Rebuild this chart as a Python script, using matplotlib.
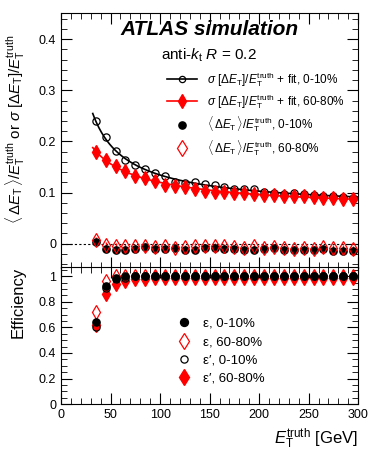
import matplotlib
matplotlib.use('Agg')
import matplotlib.pyplot as plt
import numpy as np
from matplotlib.ticker import MultipleLocator

plt.rcParams['font.family'] = ['Liberation Sans', 'DejaVu Sans']
plt.rcParams['mathtext.fontset'] = 'custom'
plt.rcParams['mathtext.rm'] = 'Liberation Sans'
plt.rcParams['mathtext.it'] = 'Liberation Sans:italic'
plt.rcParams['mathtext.bf'] = 'Liberation Sans:bold'

# jet ET truth bin centres [GeV]
ET = [35, 45, 55, 65, 75, 85, 95, 105, 115, 125, 135, 145, 155, 165, 175,
      185, 195, 205, 215, 225, 235, 245, 255, 265, 275, 285, 295]

# JER sigma[dET]/ET
SIG_010 = [0.239, 0.208, 0.182, 0.163, 0.154, 0.146, 0.138, 0.132, 0.121, 0.119,
           0.121, 0.117, 0.114, 0.110, 0.107, 0.107, 0.106, 0.102, 0.100, 0.098,
           0.099, 0.098, 0.095, 0.094, 0.093, 0.091, 0.090]
SIG_6080 = [0.180, 0.164, 0.151, 0.143, 0.133, 0.128, 0.122, 0.115, 0.112, 0.110,
            0.106, 0.104, 0.102, 0.102, 0.100, 0.099, 0.098, 0.096, 0.095, 0.094,
            0.093, 0.093, 0.091, 0.090, 0.089, 0.087, 0.087]

# JES <dET>/ET
MEAN_010 = [0.004, -0.010, -0.013, -0.013, -0.010, -0.007, -0.010, -0.010, -0.008,
            -0.012, -0.013, -0.008, -0.008, -0.010, -0.010, -0.012, -0.012, -0.010,
            -0.008, -0.013, -0.013, -0.012, -0.012, -0.010, -0.015, -0.014, -0.014]
MEAN_6080 = [0.008, -0.002, -0.004, -0.005, -0.005, -0.004, -0.007, -0.005, -0.008,
             -0.007, -0.004, -0.005, -0.004, -0.005, -0.007, -0.008, -0.005, -0.008,
             -0.007, -0.008, -0.010, -0.008, -0.010, -0.007, -0.008, -0.008, -0.010]

# efficiencies
EFF_010 = [0.64, 0.92, 0.99, 1.0, 1.0, 1.0, 1.0, 1.0, 1.0, 1.0, 1.0, 1.0, 1.0, 1.0,
           1.0, 1.0, 1.0, 1.0, 1.0, 1.0, 1.0, 1.0, 1.0, 1.0, 1.0, 1.0, 1.0]
EFF_6080 = [0.72, 0.96, 1.0, 1.0, 1.0, 1.0, 1.0, 1.0, 1.0, 1.0, 1.0, 1.0, 1.0, 1.0,
            1.0, 1.0, 1.0, 1.0, 1.0, 1.0, 1.0, 1.0, 1.0, 1.0, 1.0, 1.0, 1.0]
EFFP_010 = [0.60, 0.91, 0.98, 0.99, 1.0, 1.0, 1.0, 1.0, 1.0, 1.0, 1.0, 1.0, 1.0, 1.0,
            1.0, 1.0, 1.0, 1.0, 1.0, 1.0, 1.0, 1.0, 1.0, 1.0, 1.0, 1.0, 1.0]
EFFP_6080 = [0.62, 0.865, 0.94, 0.965, 0.975, 0.98, 0.985, 0.99, 0.99, 0.99, 0.99,
             0.99, 0.99, 0.99, 0.99, 0.99, 0.99, 0.99, 0.99, 0.99, 0.99, 0.99, 0.99,
             0.99, 0.99, 0.99, 0.99]


def fit_curve(x, y):
    # sigma^2 = a + b/x + c/x^2
    x = np.asarray(x, float)
    y = np.asarray(y, float)
    A = np.vstack([np.ones_like(x), 1 / x, 1 / x**2]).T
    coef = np.linalg.lstsq(A, y**2, rcond=None)[0]
    xx = np.linspace(32, 300, 300)
    yy = np.sqrt(np.clip(coef[0] + coef[1] / xx + coef[2] / xx**2, 0, None))
    return xx, yy


def root_ticks(ax):
    ax.tick_params(which='both', direction='in', top=True, right=True, labelsize=9)
    ax.tick_params(which='major', length=8)
    ax.tick_params(which='minor', length=4)
    ax.xaxis.set_major_locator(MultipleLocator(50))
    ax.xaxis.set_minor_locator(MultipleLocator(10))


MS_C = 5.2   # circles
MS_D = 7.5   # diamonds

SIG = r'$\sigma$ $[\Delta E_{\mathrm{T}}]/E_{\mathrm{T}}^{\mathrm{truth}}$'
MEAN = r'$\langle\,\Delta E_{\mathrm{T}}\,\rangle/E_{\mathrm{T}}^{\mathrm{truth}}$'

fig = plt.figure(figsize=(3.77, 4.5), dpi=100)
ax1 = fig.add_axes([0.162, 0.405, 0.788, 0.566])
ax2 = fig.add_axes([0.162, 0.102, 0.788, 0.304])

# ---- top panel
xf, yf = fit_curve(ET, SIG_010)
xr, yr = fit_curve(ET, SIG_6080)
ax1.axhline(0, color='black', ls=(0, (2, 2)), lw=0.8)
ax1.plot(xr, yr, color='red', lw=1.2)
ax1.errorbar(ET, SIG_6080, yerr=0.004, fmt='d', color='red', ms=MS_D, elinewidth=1,
             capsize=0)
ax1.plot(xf, yf, color='black', lw=1.2)
ax1.plot(ET, SIG_010, 'o', mfc='none', mec='black', ms=MS_C, mew=0.9)
ax1.errorbar(ET, MEAN_6080, yerr=0.005, fmt='d', mfc='none', mec='red', ecolor='red',
             ms=MS_D, elinewidth=1, capsize=0, mew=0.9)
ax1.plot(ET, MEAN_010, 'o', color='black', ms=MS_C)

h1 = plt.Line2D([], [], color='black', lw=1.2, marker='o', mfc='none', ms=4.5, mew=0.9)
h2 = plt.Line2D([], [], color='red', lw=1.2, marker='d', ms=MS_D)
h3 = plt.Line2D([], [], ls='none', color='black', marker='o', ms=MS_C)
h4 = plt.Line2D([], [], ls='none', color='red', marker='d', mfc='none', ms=MS_D + 1, mew=0.9)
ax1.legend([h1, h2, h3, h4],
           [SIG + ' + fit, 0-10%', SIG + ' + fit, 60-80%',
            MEAN + ', 0-10%', MEAN + ', 60-80%'],
           loc='upper left', bbox_to_anchor=(0.34, 0.795), frameon=False, fontsize=8.5,
           handlelength=2.6, labelspacing=0.3, borderaxespad=0)

ax1.text(0.5, 0.935, 'ATLAS simulation', transform=ax1.transAxes, ha='center',
         va='center', fontsize=15, fontweight='bold', style='italic')
ax1.text(0.335, 0.835, r'anti-$k_{\mathrm{t}}$ $R$ = 0.2', transform=ax1.transAxes,
         ha='left', va='center', fontsize=11)

ax1.set_xlim(0, 300)
ax1.set_ylim(-0.047, 0.451)
ax1.yaxis.set_minor_locator(MultipleLocator(0.02))
ax1.set_yticks([0, 0.1, 0.2, 0.3, 0.4])
ax1.set_yticklabels(['0', '0.1', '0.2', '0.3', '0.4'])
root_ticks(ax1)
ax1.tick_params(labelbottom=False)
ax1.set_ylabel(MEAN + ' or ' + SIG, fontsize=10.8)
ax1.yaxis.set_label_coords(-0.118, 0.545)

# ---- bottom panel
ax2.plot(ET, EFFP_6080, 'd', color='red', ms=MS_D)
ax2.plot(ET, EFF_6080, 'd', mfc='none', mec='red', ms=MS_D, mew=0.9)
ax2.plot(ET, EFF_010, 'o', color='black', ms=MS_C)
ax2.plot(ET, EFFP_010, 'o', mfc='none', mec='black', ms=MS_C, mew=0.9)

g1 = plt.Line2D([], [], ls='none', color='black', marker='o', ms=MS_C + 0.5)
g2 = plt.Line2D([], [], ls='none', color='red', marker='d', mfc='none', ms=MS_D + 1, mew=0.9)
g3 = plt.Line2D([], [], ls='none', color='black', marker='o', mfc='none', ms=MS_C, mew=0.9)
g4 = plt.Line2D([], [], ls='none', color='red', marker='d', ms=MS_D + 1)
ax2.legend([g1, g2, g3, g4],
           ['\u03b5, 0-10%', '\u03b5, 60-80%', '\u03b5\u2032, 0-10%', '\u03b5\u2032, 60-80%'],
           loc='upper left', bbox_to_anchor=(0.37, 0.67), frameon=False, fontsize=9.5,
           handlelength=1.2, labelspacing=0.45, borderaxespad=0)

ax2.set_xlim(0, 300)
ax2.set_ylim(0, 1.07)
ax2.yaxis.set_minor_locator(MultipleLocator(0.05))
ax2.set_yticks([0, 0.2, 0.4, 0.6, 0.8, 1.0])
ax2.set_yticklabels(['0', '0.2', '0.4', '0.6', '0.8', '1'])
root_ticks(ax2)
ax2.set_ylabel('Efficiency', fontsize=12)
ax2.yaxis.set_label_coords(-0.118, 0.745)
ax2.set_xlabel(r'$E_{\mathrm{T}}^{\mathrm{truth}}$ [GeV]', fontsize=12, ha='right', x=1.0)

fig.savefig('out.png', dpi=100)
